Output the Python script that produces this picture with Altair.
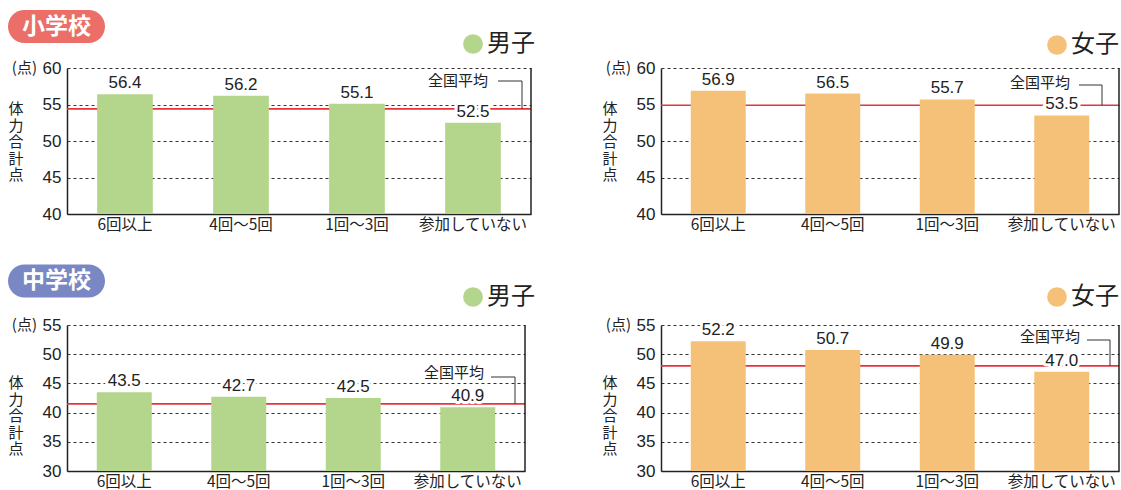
import altair as alt
import pandas as pd

# ---------------- data ----------------
categories = ["6回以上", "4回〜5回", "1回〜3回", "参加していない"]
elem_boys = [56.4, 56.2, 55.1, 52.5]
elem_girls = [56.9, 56.5, 55.7, 53.5]
jhs_boys = [43.5, 42.7, 42.5, 40.9]
jhs_girls = [52.2, 50.7, 49.9, 47.0]
avg_elem_boys = 54.4
avg_elem_girls = 54.9
avg_jhs_boys = 41.5
avg_jhs_girls = 48.0
elem_range = [40, 60]
jhs_range = [30, 55]
schools = ["小学校", "中学校"]
genders = ["男子", "女子"]
note_text = "全国平均"
unit_text = "(点)"
ytitle_text = "体\n力\n合\n計\n点"

# ---------------- styles ----------------
JP = "Noto Sans CJK JP"
NUM = "Liberation Sans"
INK = "#222222"
GREEN = "#B4D68C"
ORANGE = "#F5C178"
RED = "#E8333A"
BADGE_RED = "#EB6E68"
BADGE_BLUE = "#7987C4"


def panel(values, avg, yr, color, gender, width, height, lay, badge=None, badge_color=None):
    ymin, ymax = yr
    df = pd.DataFrame({"category": categories, "score": values, "base": [ymin] * len(values)})
    lead_val = ymax - lay["lead_y"] / height * (ymax - ymin)
    one = pd.DataFrame({"avg": [avg], "lead": [lead_val], "base": [ymin]})

    yscale = alt.Scale(domain=[ymin, ymax], nice=False, zero=False)
    yaxis = alt.Axis(title=None, values=list(range(ymin, ymax + 1, 5)), ticks=False,
                     domainColor=INK, domainWidth=1.5, labelFont=NUM, labelFontSize=17,
                     labelColor=INK, labelPadding=6, grid=True, gridColor="#333333",
                     gridDash=[3, 3], gridWidth=1)

    def Y(f):
        return alt.Y(f"{f}:Q", scale=yscale, axis=yaxis)

    xenc = alt.X("category:N", sort=categories,
                 scale=alt.Scale(paddingInner=0.52, paddingOuter=0.26),
                 axis=alt.Axis(title=None, labelAngle=0, ticks=False, domainColor=INK,
                               domainWidth=1.5, labelFont=JP, labelFontSize=15.5,
                               labelColor=INK, labelPadding=3))

    avg_rule = alt.Chart(one).mark_rule(color=RED, strokeWidth=1.6).encode(y=Y("avg"))
    bars = alt.Chart(df).mark_bar(color=color).encode(x=xenc, y=Y("score"), y2=alt.Y2("base:Q"))
    lbl_halo = alt.Chart(df).mark_text(font=NUM, fontSize=17, baseline="bottom", dy=-2,
                                       stroke="white", strokeWidth=6, strokeJoin="round",
                                       color="white").encode(
        x=alt.X("category:N", sort=categories), y=Y("score"),
        text=alt.Text("score:Q", format=".1f"))
    lbl = alt.Chart(df).mark_text(font=NUM, fontSize=17, baseline="bottom", dy=-2,
                                  color=INK).encode(
        x=alt.X("category:N", sort=categories), y=Y("score"),
        text=alt.Text("score:Q", format=".1f"))
    border = alt.Chart(one).mark_rule(color=INK, strokeWidth=1.5).encode(
        x=alt.value(width), y=alt.value(0), y2=alt.value(height))

    note_halo = alt.Chart(one).mark_text(text=note_text, font=JP, fontSize=15, align="right",
                                         baseline="middle", stroke="white", strokeWidth=5,
                                         color="white").encode(
        x=alt.value(lay["note_x"]), y=alt.value(lay["note_y"]))
    note = alt.Chart(one).mark_text(text=note_text, font=JP, fontSize=15, align="right",
                                    baseline="middle", color=INK).encode(
        x=alt.value(lay["note_x"]), y=alt.value(lay["note_y"]))
    lead_h = alt.Chart(one).mark_rule(color="#333333", strokeWidth=1).encode(
        x=alt.value(lay["lead_x1"]), x2=alt.value(lay["lead_x2"]), y=Y("lead"))
    lead_v = alt.Chart(one).mark_rule(color="#333333", strokeWidth=1).encode(
        x=alt.value(lay["lead_x2"]), y=Y("lead"), y2=alt.Y2("avg:Q"))

    unit = alt.Chart(one).mark_text(text=unit_text, font=JP, fontSize=15, align="right",
                                    baseline="middle", color=INK).encode(
        x=alt.value(-30), y=alt.value(0))
    ytitle = alt.Chart(one).mark_text(text=ytitle_text, lineBreak="\n", font=JP, fontSize=15,
                                      lineHeight=16.5, align="center", baseline="middle",
                                      color=INK).encode(
        x=alt.value(-51), y=alt.value(lay["title_y"]))

    dot = alt.Chart(one).mark_circle(color=color, opacity=1, size=390).encode(
        x=alt.value(lay["leg_x"]), y=alt.value(lay["leg_y"]))
    leg = alt.Chart(one).mark_text(text=gender, font=JP, fontSize=24, align="left",
                                   baseline="middle", color=INK).encode(
        x=alt.value(lay["leg_x"] + 14), y=alt.value(lay["leg_y"]))

    layers = [avg_rule, bars, lbl_halo, lbl, border, note_halo, note, lead_h, lead_v,
              unit, ytitle, dot, leg]

    if badge is not None:
        brect = alt.Chart(one).mark_rect(color=badge_color, cornerRadius=16.5).encode(
            x=alt.value(-59), x2=alt.value(38),
            y=alt.value(lay["badge_y"]), y2=alt.value(lay["badge_y"] + 33))
        btext = alt.Chart(one).mark_text(text=badge, font=JP, fontSize=23, fontWeight="bold",
                                         align="center", baseline="middle", color="white").encode(
            x=alt.value(-10.5), y=alt.value(lay["badge_y"] + 16.5))
        layers += [brect, btext]

    return alt.layer(*layers).properties(width=width, height=height)


H = 146
tl = panel(elem_boys, avg_elem_boys, elem_range, GREEN, genders[0], 464, H,
           dict(note_x=421, note_y=13, lead_x1=431, lead_x2=455, lead_y=13,
                title_y=41, leg_x=406, leg_y=-24, badge_y=-58),
           badge=schools[0], badge_color=BADGE_RED)
tr = panel(elem_girls, avg_elem_girls, elem_range, ORANGE, genders[1], 458, H,
           dict(note_x=409, note_y=15, lead_x1=418, lead_x2=441, lead_y=17,
                title_y=41, leg_x=396, leg_y=-23))
bl = panel(jhs_boys, avg_jhs_boys, jhs_range, GREEN, genders[0], 458, H,
           dict(note_x=417, note_y=48, lead_x1=424, lead_x2=448, lead_y=52,
                title_y=58, leg_x=406, leg_y=-28, badge_y=-60.5),
           badge=schools[1], badge_color=BADGE_BLUE)
br = panel(jhs_girls, avg_jhs_girls, jhs_range, ORANGE, genders[1], 458, H,
           dict(note_x=419, note_y=12, lead_x1=426, lead_x2=449, lead_y=15,
                title_y=58, leg_x=396, leg_y=-28))

chart = alt.concat(tl, tr, bl, br, columns=2,
                   spacing={"row": 111, "column": 130}, bounds="flush").properties(
    padding={"left": 8, "top": 10, "right": 0, "bottom": 0},
    background="white",
).configure_view(stroke=None)

chart.save("out.html", embed_options={"renderer": "svg", "actions": False})
